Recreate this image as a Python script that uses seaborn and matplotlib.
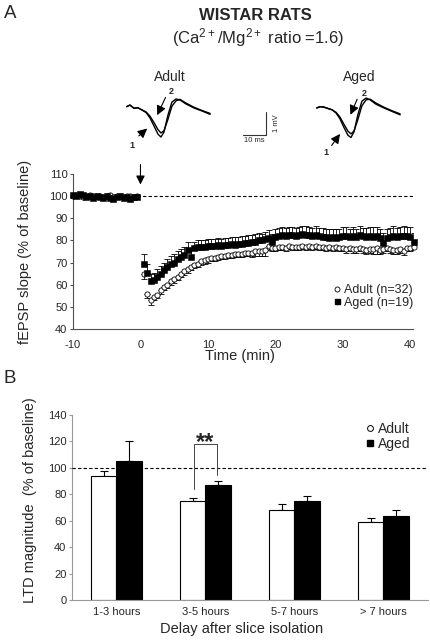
import numpy as np
import pandas as pd
import matplotlib
matplotlib.use("Agg")
import matplotlib.pyplot as plt
from matplotlib.lines import Line2D
import seaborn as sns

sns.set_style("ticks")
plt.rcParams['font.family'] = ['Liberation Sans', 'DejaVu Sans']
plt.rcParams['mathtext.fontset'] = 'custom'
plt.rcParams['mathtext.rm'] = 'Liberation Sans'
plt.rcParams['mathtext.default'] = 'regular'
plt.rcParams['axes.unicode_minus'] = False

# ---------------- Panel A data ----------------
base_t = np.arange(-10, 0, 0.5)
base_adult = [100, 100.5, 100, 99.5, 100, 100.5, 99.5, 100, 100, 99.5,
              100, 100.5, 99.5, 100, 100, 99.5, 100, 100, 99.5, 100]
base_aged = [100.5, 100, 101, 100.5, 99.5, 100, 99, 100, 99.5, 99,
             100, 99, 98.5, 99.5, 100, 99, 99.5, 98.5, 99.5, 99.5]

post_t = np.arange(0.5, 41.0, 0.5)
adult = [65, 56, 53, 54.5, 55.5, 57.5, 59, 60, 61.5, 62.5,
         63.5, 65, 66, 67, 68, 69, 69.5, 70.5, 71, 71.5,
         72, 72, 72.5, 73, 73, 73.5, 73.5, 74, 74, 74,
         74.5, 74.5, 74.5, 75, 75, 75, 75.5, 77.5, 76.5, 76.5,
         77, 77, 76.5, 77.5, 77, 77, 77, 77.5, 77, 77.5,
         77, 77.5, 77, 77, 76.5, 77, 76.5, 77, 76.5, 76.5,
         76, 76.5, 76, 76, 76.5, 76, 75.5, 76, 76, 76.5,
         75.5, 76, 76.5, 76, 75.5, 75.5, 76, 75, 76.5, 76.5,
         77]
adult_err = [2.5, 2, 2, 1.5, 1.5, 1.5, 1.5, 1.5, 1.5, 1.5,
             1.5, 1.5, 1.5, 1.5, 1.5, 1.5, 1.5, 1.5, 1.5, 1.5,
             1.5, 1.5, 1.5, 1.5, 1.5, 1.5, 1.5, 1.5, 1.5, 1.5,
             1.5, 1.5, 2, 2, 2, 2, 2.5, 2, 1.5, 1.5,
             1.5, 1.5, 1.5, 1.5, 1.5, 1.5, 1.5, 1.5, 1.5, 1.5,
             1.5, 1.5, 1.5, 1.5, 1.5, 1.5, 1.5, 1.5, 1.5, 1.5,
             1.5, 1.5, 1.5, 1.5, 1.5, 1.5, 1.5, 1.5, 2, 2.5,
             1.5, 1.5, 1.5, 1.5, 1.5, 1.5, 1.5, 1.5, 1.5, 1.5,
             1.5]
aged = [69.5, 65.5, 61.5, 62, 63.5, 65, 66.5, 68, 69.5, 70,
        71.5, 72.5, 73.5, 75.5, 72.5, 76.5, 77, 77, 77, 77.5,
        77.5, 77.5, 78, 77.5, 78, 78, 78.5, 78, 78.5, 78.5,
        79, 79, 79.5, 79.5, 80, 80, 80.5, 81, 79.5, 81.5,
        82, 82.5, 82, 82.5, 82.5, 82, 82.5, 83, 82.5, 82.5,
        82, 82.5, 82, 81.5, 81.5, 81, 81.5, 81, 81.5, 82,
        82, 81.5, 82, 81.5, 82.5, 82, 81.5, 82, 81.5, 82,
        81, 79, 81, 81.5, 82, 81.5, 82, 82, 82, 81.5,
        79.5]
aged_err = [4.5, 4, 3.5, 3.5, 3.5, 3.5, 3.5, 3.5, 3.5, 4,
            3.5, 3.5, 3.5, 4, 3.5, 3, 3, 3, 3, 3,
            3, 3, 3, 3, 3, 3, 3, 3.5, 3, 3.5,
            3, 3.5, 3, 3.5, 3.5, 3, 3.5, 3.5, 3.5, 3.5,
            3.5, 3.5, 3.5, 3.5, 3.5, 3.5, 3.5, 3.5, 4, 3.5,
            3.5, 4, 3.5, 4, 3.5, 4, 3.5, 4, 3.5, 4,
            4, 3.5, 4, 3.5, 4, 3.5, 4, 4, 4.5, 4,
            4, 4.5, 4, 4, 4.5, 4, 4, 4.5, 4, 4.5,
            4]

# ---------------- fEPSP traces (ms, mV) ----------------
trace_t = [0, 1.4, 3.1, 4.8, 6.6, 8.3, 10.0, 11.7, 13.4, 14.7, 16.0,
           17.7, 19.4, 21.2, 22.9, 25.4, 28.9, 32.3, 35.8]
adult_tr1 = [0.06, 0.13, -0.01, 0.01, -0.09, -0.2, -0.44, -0.79, -1.15, -1.28, -1.06,
             -0.31, 0.26, 0.4, 0.35, 0.18, 0.0, -0.13, -0.28]
adult_tr2 = [0.06, 0.13, -0.01, 0.01, -0.09, -0.17, -0.36, -0.64, -0.95, -1.1, -1.0,
             -0.5, 0.08, 0.32, 0.38, 0.22, 0.03, -0.11, -0.24]
aged_tr1 = [0.0, 0.06, 0.04, -0.02, -0.08, -0.22, -0.48, -0.86, -1.2, -1.3, -1.05,
            -0.28, 0.3, 0.44, 0.36, 0.17, 0.0, -0.15, -0.3]
aged_tr2 = [0.0, 0.06, 0.04, -0.02, -0.08, -0.19, -0.4, -0.72, -1.02, -1.14, -1.02,
            -0.5, 0.1, 0.36, 0.39, 0.22, 0.03, -0.12, -0.26]

# ---------------- Panel B data ----------------
delays = ["1-3 hours", "3-5 hours", "5-7 hours", "> 7 hours"]
ltd_adult = [94, 74.8, 68.3, 59.2]
ltd_adult_err = [3.6, 2.3, 4.0, 2.7]
ltd_aged = [104.9, 86.8, 75.2, 63.3]
ltd_aged_err = [15.1, 3.0, 3.8, 4.6]

SP = '#505050'
fig = plt.figure(figsize=(4.31, 6.41), dpi=100)

# ================= Panel A =================
axA = fig.add_axes([73/431, (641-329)/641, (413-73)/431, (329-174)/641])
axA.hlines(100, -0.5, 40.4, colors='black', linestyles=(0, (3, 2)), lw=0.8, zorder=1)
axA.errorbar(post_t, adult, yerr=[adult_err, np.zeros(len(adult))], fmt='none',
             ecolor='black', elinewidth=0.6, capsize=2, capthick=0.6, zorder=2)
axA.errorbar(post_t, aged, yerr=[np.zeros(len(aged)), aged_err], fmt='none',
             ecolor='black', elinewidth=0.6, capsize=2, capthick=0.6, zorder=2)
sns.scatterplot(x=np.concatenate([base_t, post_t]), y=base_adult + adult, marker='o', s=14,
                facecolor='white', edgecolor='black', linewidth=0.6, ax=axA, zorder=3,
                clip_on=False)
sns.scatterplot(x=np.concatenate([base_t, post_t]), y=base_aged + aged, marker='s', s=14,
                color='black', edgecolor='black', linewidth=0.4, ax=axA, zorder=4,
                clip_on=False)
axA.set_xlim(-10, 40.4)
axA.set_ylim(40, 110)
axA.set_xticks([-10, 0, 10, 20, 30, 40])
axA.set_yticks(range(40, 111, 10))
axA.tick_params(axis='y', labelsize=8, length=2, pad=2, color=SP)
axA.tick_params(axis='x', labelsize=8, length=0, pad=8)
for s in ['top', 'right']:
    axA.spines[s].set_visible(False)
for s in ['left', 'bottom']:
    axA.spines[s].set_color(SP)
    axA.spines[s].set_linewidth(0.8)
axA.set_xlabel('Time (min)', fontsize=10.5)
axA.set_ylabel('fEPSP slope (% of baseline)', fontsize=10.5)
axA.xaxis.set_label_coords(0.49, -0.13)
axA.yaxis.set_label_coords(-0.12, 0.5)
hA = [Line2D([], [], marker='o', ls='none', markersize=3.6, markerfacecolor='white',
             markeredgecolor='black', markeredgewidth=0.6),
      Line2D([], [], marker='s', ls='none', markersize=3.6, color='black')]
axA.legend(hA, ['Adult (n=32)', 'Aged (n=19)'], loc='lower right', bbox_to_anchor=(1.02, 0.09),
           frameon=False, fontsize=9, handletextpad=0.1, labelspacing=0.05, borderpad=0,
           handlelength=1.0)
axA.annotate('', xy=(0, 104), xytext=(0, 115.5),
             arrowprops=dict(arrowstyle='-|>', color='black', lw=0.8, mutation_scale=13),
             annotation_clip=False)

# ================= Panel B =================
axB = fig.add_axes([72/431, (641-600)/641, (428-72)/431, (600-415)/641])
df = pd.DataFrame({'delay': delays * 2,
                   'group': ['Adult'] * 4 + ['Aged'] * 4,
                   'value': ltd_adult + ltd_aged})
sns.barplot(data=df, x='delay', y='value', hue='group',
            palette={'Adult': 'white', 'Aged': 'black'}, edgecolor='black', linewidth=0.8,
            width=0.58, errorbar=None, ax=axB, legend=False, zorder=2)
pats = axB.patches
xs = [p.get_x() + p.get_width() / 2 for p in pats]
axB.errorbar(xs[:4], ltd_adult, yerr=[np.zeros(4), ltd_adult_err], fmt='none', ecolor='black',
             elinewidth=0.8, capsize=3, capthick=0.8, zorder=1)
axB.errorbar(xs[4:8], ltd_aged, yerr=[np.zeros(4), ltd_aged_err], fmt='none', ecolor='black',
             elinewidth=0.8, capsize=3, capthick=0.8, zorder=1)
axB.axhline(100, ls=(0, (3, 2)), color='black', lw=0.8, zorder=3)
axB.plot([0.876, 0.876, 1.131, 1.131], [83.7, 117.9, 117.9, 94.6], color='#444444', lw=0.7,
         zorder=4)
axB.text(1.0, 114.5, '**', ha='center', va='baseline', fontsize=17, fontweight='bold')
axB.set_xlim(-0.5, 3.5)
axB.set_ylim(0, 140)
axB.set_yticks(range(0, 141, 20))
axB.tick_params(axis='y', labelsize=8, length=2, pad=2, color='#999999')
axB.tick_params(axis='x', labelsize=8, length=0, pad=5)
for s in ['top', 'right']:
    axB.spines[s].set_visible(False)
for s in ['left', 'bottom']:
    axB.spines[s].set_color('#999999')
    axB.spines[s].set_linewidth(0.8)
axB.set_xlabel('Delay after slice isolation', fontsize=10.5)
axB.set_ylabel('LTD magnitude  (% of baseline)', fontsize=10.5)
axB.xaxis.set_label_coords(0.475, -0.12)
axB.yaxis.set_label_coords(-0.098, 0.54)
hB = [Line2D([], [], marker='o', ls='none', markersize=4.2, markerfacecolor='white',
             markeredgecolor='black', markeredgewidth=0.7),
      Line2D([], [], marker='s', ls='none', markersize=4.5, color='black')]
axB.legend(hB, ['Adult', 'Aged'], loc='upper right', bbox_to_anchor=(0.97, 1.0),
           frameon=False, fontsize=10, handletextpad=0.1, labelspacing=0.1, borderpad=0,
           handlelength=1.0)

# ================= Traces =================
def trace_axes(x0, y0, t, v1, v2):
    ax = fig.add_axes([x0/431, (641-y0-48)/641, 88/431, 48/641])
    ax.plot(t, v1, color='black', lw=1.0)
    ax.plot(t, v2, color='black', lw=1.0)
    ax.set_xlim(-1.16, 36.6)
    ax.set_ylim(-1.498, 0.617)
    ax.axis('off')
    return ax

trace_axes(124, 94, trace_t, adult_tr1, adult_tr2)
trace_axes(314, 94, trace_t, aged_tr1, aged_tr2)

# ================= Overlay (text, arrows, scale bar) =================
ov = fig.add_axes([0, 0, 1, 1], zorder=10)
ov.set_xlim(0, 431)
ov.set_ylim(641, 0)
ov.axis('off')
ov.patch.set_alpha(0)

ov.text(4, 18.5, 'A', fontsize=13.5, va='baseline', ha='left')
ov.text(4, 383, 'B', fontsize=13.5, va='baseline', ha='left')
ov.text(255, 16, 'WISTAR RATS', fontsize=12, fontweight='bold', ha='center', va='center')
ov.text(258, 37.5, '(Ca$^{2+}$/Mg$^{2+}$ ratio =1.6)', fontsize=12, ha='center', va='center')
ov.text(170, 77, 'Adult', fontsize=10, ha='center', va='center')
ov.text(359.5, 77, 'Aged', fontsize=10, ha='center', va='center')

arr = dict(arrowstyle='-|>', color='black', lw=0.8, mutation_scale=14)
ov.annotate('', xy=(149.3, 126.7), xytext=(136.7, 137.7), arrowprops=arr)
ov.annotate('', xy=(156, 117.7), xytext=(166.7, 95), arrowprops=arr)
ov.text(132.3, 146, '1', fontsize=6.5, fontweight='bold', ha='center', va='center')
ov.text(171.7, 91, '2', fontsize=6.5, fontweight='bold', ha='center', va='center')
ov.annotate('', xy=(341.7, 131.7), xytext=(330, 147.7), arrowprops=arr)
ov.annotate('', xy=(349.3, 117.3), xytext=(358.3, 96.7), arrowprops=arr)
ov.text(325.7, 152.3, '1', fontsize=6.5, fontweight='bold', ha='center', va='center')
ov.text(364.3, 93.3, '2', fontsize=6.5, fontweight='bold', ha='center', va='center')

ov.plot([266, 266, 242.7], [112.3, 135, 135], color='#333333', lw=0.8)
ov.text(276.5, 123.5, '1 mV', fontsize=5.5, rotation=90, ha='center', va='center')
ov.text(254.5, 140.5, '10 ms', fontsize=5.5, ha='center', va='center')

fig.savefig('out.png', dpi=100)
